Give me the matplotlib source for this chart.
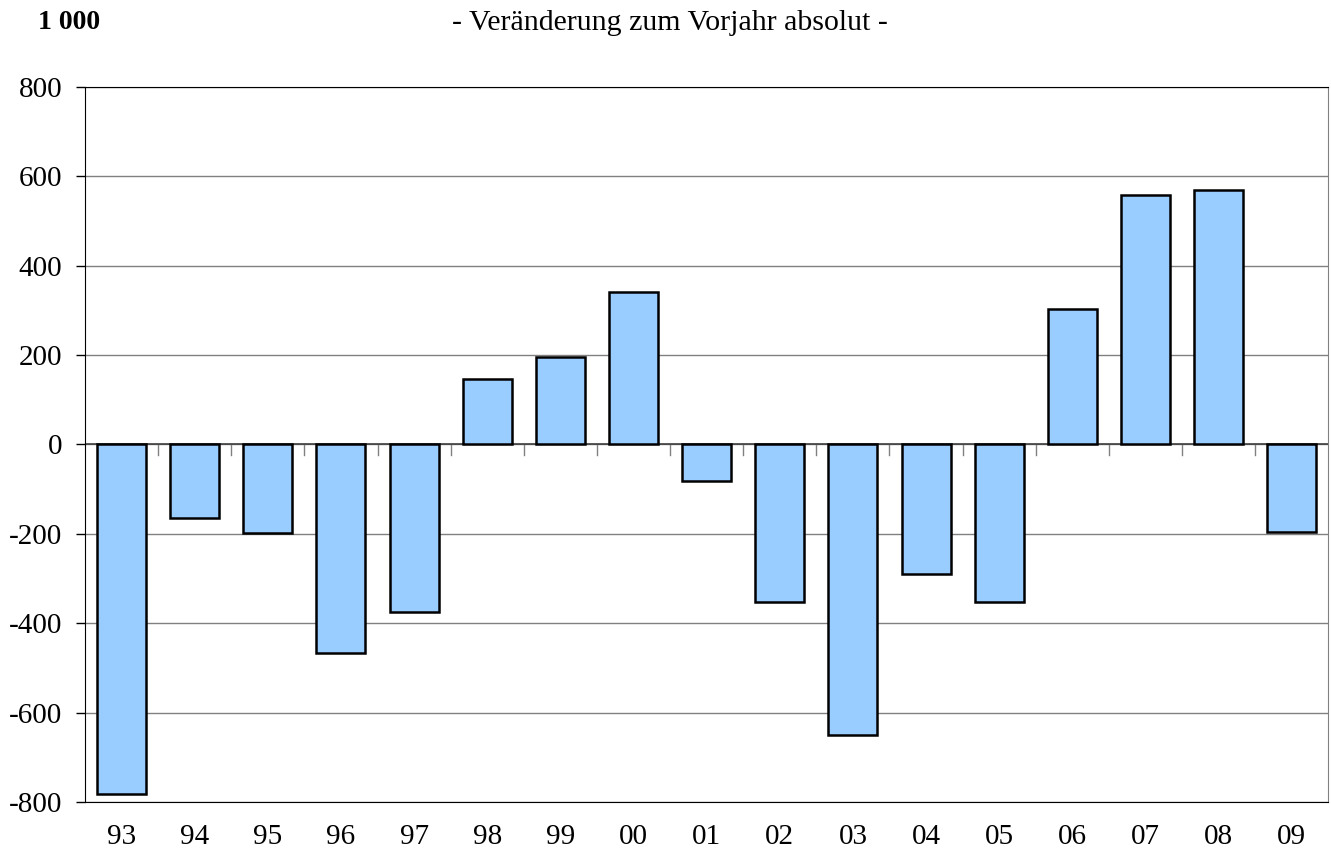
import matplotlib.pyplot as plt

jahre = ['93', '94', '95', '96', '97', '98', '99', '00', '01',
         '02', '03', '04', '05', '06', '07', '08', '09']
veraenderung = [-782, -164, -199, -466, -376, 146, 195, 341, -81,
                -352, -650, -289, -352, 302, 558, 569, -197]

plt.rcParams['font.family'] = ['Liberation Serif', 'DejaVu Serif']
plt.rcParams['axes.unicode_minus'] = False

fig = plt.figure(figsize=(13.31, 8.59), dpi=100)
ax = fig.add_axes([0.0639, 0.0664, 0.934, 0.8324])

x = range(len(jahre))
ax.bar(x, veraenderung, width=0.67, color='#99CCFF', edgecolor='black',
       linewidth=1.8, zorder=3)

ax.set_xlim(-0.5, len(jahre) - 0.5)
ax.set_ylim(-800, 800)
ax.set_yticks(range(-800, 801, 200))
ax.yaxis.grid(True, color='#808080', linewidth=1, zorder=0)
ax.tick_params(axis='y', labelsize=21, length=6.5, width=1, pad=10)

# Kategorie-Beschriftungen unten, Striche an der Nulllinie
ax.set_xticks(list(x))
ax.set_xticklabels(jahre)
ax.tick_params(axis='x', length=0, labelsize=21, pad=16)
for i in range(1, len(jahre)):
    ax.plot([i - 0.5, i - 0.5], [0, -23], color='#808080', lw=1, zorder=2)
ax.axhline(0, color='#404040', lw=1.2, zorder=2)

for s in ['left', 'bottom', 'top']:
    ax.spines[s].set_color('black')
ax.spines['right'].set_color('#808080')

fig.text(0.0285, 0.988, '1 000', fontsize=20, fontweight='bold', va='top')
fig.text(0.503, 0.988, '- Veränderung zum Vorjahr absolut -', fontsize=21.5,
         ha='center', va='top')

fig.savefig('out.png', dpi=100)
